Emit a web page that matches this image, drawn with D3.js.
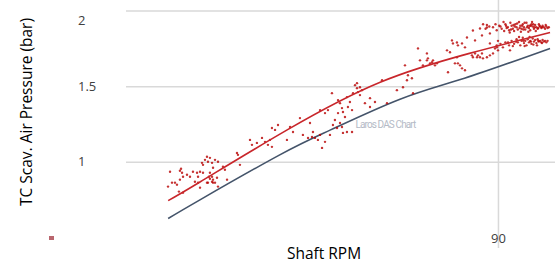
<!DOCTYPE html>
<html lang="en">
<head>
    <meta charset="UTF-8">
    <title>TC Scav. Air Pressure vs Shaft RPM</title>
    <script src="https://d3js.org/d3.v7.min.js"></script>
    <style>
        body { margin: 0; background: #fff; }
        svg { display: block; }
        .grid line { stroke: #d9d9d9; stroke-width: 1.5; }
        .grid path { display: none; }
        .grid text { font: 13px "Open Sans", sans-serif; fill: #404040; }
        .title { font: 15.5px "Open Sans", sans-serif; fill: #000; }
    </style>
</head>
<body>
    <svg id="chart"></svg>
    <script>
        // axis ticks
        var yTicks = [1, 1.5, 2];
        var xTicks = [90];

        // reference (shop test) curve
        var refRpm = [63.4, 66.0, 72.4, 76.5, 82.1, 87.3, 94.2];
        var refBar = [0.625, 0.75, 1.046, 1.211, 1.414, 1.553, 1.75];

        // trend of the measured samples
        var trendRpm = [63.4, 66.0, 73.0, 80.5, 87.7, 94.2];
        var trendBar = [0.743, 0.868, 1.211, 1.526, 1.717, 1.855];

        // measured samples [rpm, bar]
        var samples = [
            [64.44,0.954],[64.35,0.941],[63.55,0.934],[63.71,0.862],[63.39,0.836],[63.95,0.862],
            [64.11,0.849],[64.35,0.882],[64.6,0.901],[64.6,0.796],[64.27,0.803],[64.92,0.914],
            [65.16,0.901],[65.56,0.868],[65.73,0.928],[65.97,0.934],[66.13,0.993],[66.21,0.98],
            [66.37,1.013],[66.53,1.033],[66.77,1.026],[66.61,1.0],[66.94,0.993],[67.02,0.961],
            [67.18,1.013],[67.42,1.0],[66.77,0.928],[66.94,0.901],[67.02,0.882],[67.18,0.862],
            [66.94,0.868],[66.77,0.888],[67.34,0.895],[66.61,0.862],[67.42,0.836],[66.21,0.928],
            [65.81,0.901],[65.4,0.934],[65.81,0.862],[67.98,0.947],[68.15,0.882],[67.82,0.967],
            [69.03,1.046],[69.19,0.98],[68.95,1.059],[70.0,1.145],[70.16,1.112],[70.56,1.125],
            [71.21,1.132],[71.45,1.112],[64.52,0.928],[65.97,0.829],[66.53,0.862],[66.69,0.901],
            [67.02,0.862],
            [71.77,1.224],[72.26,1.243],[72.02,1.211],[71.61,1.145],[72.98,1.145],[71.77,1.099],
            [70.97,1.158],[74.84,1.257],[75.0,1.164],[75.08,1.197],[75.24,1.158],[75.48,1.145],
            [75.81,1.092],[76.05,1.132],[75.65,1.178],[76.45,1.178],[76.29,1.342],[76.61,1.454],
            [77.1,1.408],[77.26,1.388],[77.42,1.355],[77.5,1.329],[77.1,1.322],[77.66,1.296],
            [77.9,1.362],[77.82,1.428],[78.06,1.395],[78.23,1.342],[78.31,1.454],[78.47,1.507],
            [78.63,1.487],[78.71,1.461],[78.87,1.493],[78.63,1.52],[79.03,1.474],[78.87,1.441],
            [77.5,1.191],[77.82,1.197],[78.23,1.197],[77.26,1.257],[77.02,1.224],[77.42,1.23],
            [76.85,1.276],[76.69,1.243],[79.27,1.388],[79.68,1.421],[80.08,1.395],[80.65,1.539],
            [81.05,1.388],[79.68,1.362],[75.65,1.342],[76.05,1.322],[74.03,1.289],[73.47,1.197],
            [74.27,1.178],[74.68,1.158],[73.23,1.23],
            [82.5,1.638],[82.74,1.572],[82.66,1.539],[83.71,1.671],[83.55,1.75],[84.27,1.717],
            [84.35,1.684],[84.52,1.651],[84.68,1.658],[84.76,1.671],[84.92,1.638],[85.08,1.651],
            [84.27,1.671],[83.95,1.638],[85.89,1.737],[86.13,1.724],[86.29,1.803],[86.37,1.783],
            [86.69,1.789],[86.77,1.77],[87.1,1.783],[87.34,1.757],[85.97,1.592],[86.53,1.651],
            [86.77,1.651],[86.94,1.638],[87.1,1.618],[87.34,1.605],[86.69,1.691],[87.9,1.704],
            [87.98,1.691],[88.31,1.691],[88.55,1.691],[88.79,1.684],[89.11,1.691],[89.35,1.704],
            [89.6,1.717],[88.71,1.717],[88.39,1.704],[88.15,1.717],[89.76,1.75],[89.92,1.757],
            [90.0,1.737],[89.35,1.783],[87.98,1.868],[88.55,1.882],[89.11,1.888],[88.71,1.836],
            [89.35,1.849],[88.15,1.803],[87.5,1.822],[90.4,1.757],[90.81,1.789],[90.97,1.737],
            [83.06,1.553],[82.34,1.493],[81.85,1.474],[83.15,1.454],[89.11,1.905],
            // upper band at full load
            [89.6,1.89],[89.9,1.87],[90.1,1.90],[90.3,1.88],[90.5,1.865],[90.6,1.91],[90.8,1.89],
            [90.9,1.87],[91.0,1.92],[91.1,1.90],[91.2,1.88],[91.3,1.865],[91.4,1.91],[91.5,1.89],
            [91.6,1.875],[91.7,1.925],[91.8,1.90],[91.9,1.88],[92.0,1.91],[92.1,1.89],[92.2,1.875],
            [92.3,1.92],[92.4,1.90],[92.5,1.885],[92.6,1.87],[92.7,1.91],[92.8,1.895],[92.9,1.88],
            [93.0,1.905],[93.1,1.89],[93.2,1.88],[93.3,1.91],[93.4,1.895],[93.5,1.885],[93.6,1.90],
            [93.7,1.89],[93.8,1.88],[93.9,1.895],[94.0,1.885],[94.1,1.89],[90.2,1.895],[90.7,1.885],
            [91.05,1.875],[91.35,1.895],[91.75,1.885],[92.05,1.875],[92.35,1.89],[92.65,1.90],
            [92.95,1.89],[93.25,1.885],[93.55,1.89],[93.85,1.905],[91.55,1.915],[92.15,1.92],
            [92.75,1.925],[90.45,1.925],[89.8,1.91],[89.3,1.895],[89.0,1.88],[88.8,1.91],
            [92.45,1.86],[93.05,1.865],[91.85,1.86],[90.95,1.855],[91.25,1.905],[92.55,1.9],
            [93.35,1.9],[91.95,1.9],[90.65,1.9],[92.85,1.91],
            // lower band at full load
            [90.6,1.79],[90.9,1.77],[91.1,1.80],[91.3,1.78],[91.5,1.81],[91.6,1.79],[91.8,1.77],
            [91.9,1.80],[92.0,1.82],[92.1,1.785],[92.2,1.80],[92.3,1.77],[92.4,1.81],[92.5,1.79],
            [92.6,1.80],[92.7,1.78],[92.8,1.815],[92.9,1.795],[93.0,1.805],[93.1,1.785],[93.2,1.81],
            [93.3,1.795],[93.4,1.80],[93.5,1.79],[93.6,1.805],[93.7,1.795],[93.8,1.80],[93.9,1.79],
            [94.0,1.80],[91.2,1.765],[91.7,1.825],[92.15,1.765],[92.55,1.825],[93.15,1.77],
            [92.85,1.775],[91.45,1.795],[92.05,1.80],[92.65,1.795],[93.25,1.80],[93.55,1.785],
            [90.2,1.78],[89.9,1.77],[90.0,1.80]
        ];

        var W = 555, H = 265;
        var margin = { top: 0, right: 0, bottom: 17, left: 126 },
            width = W - margin.left - margin.right,
            height = H - margin.top - margin.bottom;

        var svg = d3.select("#chart")
            .attr("width", W)
            .attr("height", H);

        var g = svg.append("g")
            .attr("transform", "translate(" + margin.left + "," + margin.top + ")");

        var x = d3.scaleLinear().domain([60, 94.6]).range([0, width]);
        var y = d3.scaleLinear().domain([0.43, 2.07]).range([height, 0]);

        // horizontal gridlines + left-aligned labels
        var yAxis = g.append("g")
            .attr("class", "grid")
            .call(d3.axisLeft(y).tickValues(yTicks).tickSize(-width).tickFormat(d3.format("~g")));
        yAxis.selectAll("text")
            .attr("x", -48)
            .attr("text-anchor", "start")
            .attr("dy", function(d) { return d === 2 ? "1.1em" : "0.32em"; });

        // vertical gridline at 90
        var xAxis = g.append("g")
            .attr("class", "grid")
            .attr("transform", "translate(0," + height + ")")
            .call(d3.axisBottom(x).tickValues(xTicks).tickSize(-height));
        xAxis.selectAll("text")
            .attr("y", -5)
            .attr("dy", 0);

        // watermark
        g.append("text")
            .attr("x", x(78.5))
            .attr("y", y(1.225))
            .attr("textLength", 61)
            .style("font", "10px Roboto, sans-serif")
            .style("fill", "#b4bac6")
            .text("Laros DAS Chart");

        var line = d3.line()
            .x(function(d) { return x(d[0]); })
            .y(function(d) { return y(d[1]); })
            .curve(d3.curveNatural);

        g.append("path")
            .datum(d3.zip(refRpm, refBar))
            .attr("fill", "none")
            .attr("stroke", "#44546a")
            .attr("stroke-width", 1.6)
            .attr("d", line);

        g.append("g").selectAll("circle")
            .data(samples)
            .enter().append("circle")
            .attr("cx", function(d) { return x(d[0]); })
            .attr("cy", function(d) { return y(d[1]); })
            .attr("r", 1.2)
            .attr("fill", "#b80000")
            .attr("opacity", 0.8);

        g.append("path")
            .datum(d3.zip(trendRpm, trendBar))
            .attr("fill", "none")
            .attr("stroke", "#c8262b")
            .attr("stroke-width", 1.6)
            .attr("d", line);

        // stray legend marker
        svg.append("rect")
            .attr("x", 49).attr("y", 236)
            .attr("width", 5).attr("height", 4)
            .attr("fill", "#a8404a")
            .attr("opacity", 0.8);

        // axis titles
        svg.append("text")
            .attr("class", "title")
            .attr("text-anchor", "middle")
            .attr("x", 324)
            .attr("y", 259)
            .text("Shaft RPM");

        svg.append("text")
            .attr("class", "title")
            .attr("text-anchor", "middle")
            .attr("transform", "translate(32,112) rotate(-90)")
            .text("TC Scav. Air Pressure (bar)");
    </script>
</body>
</html>
